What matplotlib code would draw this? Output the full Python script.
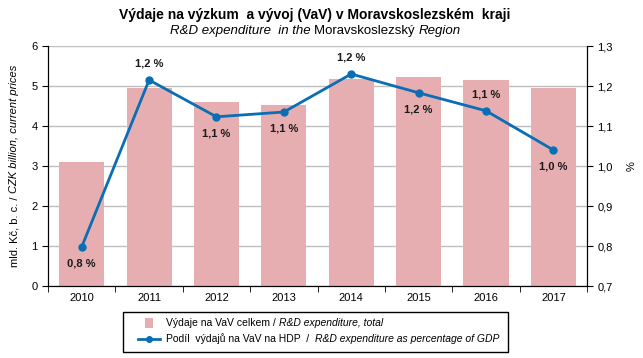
import numpy as np
import matplotlib
matplotlib.use('Agg')
import matplotlib.pyplot as plt
from matplotlib.lines import Line2D
from matplotlib.patches import Rectangle

plt.rcParams['font.family'] = ['Liberation Sans', 'DejaVu Sans']
plt.rcParams['font.size'] = 8

years = ['2010', '2011', '2012', '2013', '2014', '2015', '2016', '2017']
vydaje = [3.1, 4.95, 4.6, 4.52, 5.17, 5.22, 5.16, 4.95]
podil = [0.798, 1.215, 1.123, 1.135, 1.23, 1.183, 1.138, 1.04]
labels = ['0,8 %', '1,2 %', '1,1 %', '1,1 %', '1,2 %', '1,2 %', '1,1 %', '1,0 %']
above = [False, True, False, False, True, False, True, False]

bar_col = '#E6AEB1'
line_col = '#0A6EB4'

fig = plt.figure(figsize=(6.43, 3.58), dpi=100)
renderer = fig.canvas.get_renderer()


def mixed_text(x, y, parts, size, ha='center', weight='normal'):
    # parts: list of (string, italic?) drawn one after another on one baseline
    objs = []
    for s, it in parts:
        t = fig.text(0, y, s, fontsize=size, style='italic' if it else 'normal',
                     fontweight=weight, va='center')
        objs.append(t)
    widths = [o.get_window_extent(renderer).width / fig.bbox.width for o in objs]
    total = sum(widths)
    cur = x - total / 2 if ha == 'center' else x
    for o, w in zip(objs, widths):
        o.set_x(cur)
        cur += w


ax = fig.add_axes([0.0747, 0.201, 0.8383, 0.6705])
x = np.arange(len(years))

ax.bar(x, vydaje, width=0.67, color=bar_col, zorder=2)
ax.set_xlim(-0.5, len(years) - 0.5)
ax.set_ylim(0, 6)
ax.set_yticks(range(0, 7))
ax.yaxis.grid(True, color='#BFBFBF', linewidth=1, zorder=0)
ax.set_axisbelow(True)
ax.set_xticks(x)
ax.set_xticklabels(years)
ax.set_xticks(np.arange(-0.5, len(years)), minor=True)
ax.tick_params(axis='x', which='major', length=0, pad=5)
ax.tick_params(axis='x', which='minor', length=4, direction='out', color='black')
ax.tick_params(axis='y', length=4, direction='out')
ax.spines['top'].set_visible(False)

ax2 = ax.twinx()
ax2.set_ylim(0.7, 1.3)
rt = np.arange(0.7, 1.31, 0.1)
ax2.set_yticks(rt)
ax2.set_yticklabels([('%.1f' % v).replace('.', ',') for v in rt])
ax2.tick_params(axis='y', length=4, direction='out')
ax2.spines['top'].set_visible(False)
ax2.set_ylabel('%', fontsize=8, labelpad=10)
ax2.plot(x, podil, color=line_col, linewidth=2, marker='o', markersize=5, zorder=3)

for xi, v, lab, up in zip(x, podil, labels, above):
    off = 0.028 if up else -0.028
    ax2.text(xi, v + off, lab, ha='center', va='bottom' if up else 'top',
             fontsize=8, fontweight='bold', color='#1A1A1A')

# rotated y label with mixed styles
yl1 = fig.text(0.022, 0.0, 'mld. Kč, b. c. / ', rotation=90, fontsize=8,
               ha='center', va='bottom')
yl2 = fig.text(0.022, 0.0, 'CZK billion, current prices', rotation=90, fontsize=8,
               style='italic', ha='center', va='bottom')
h1 = yl1.get_window_extent(renderer).height / fig.bbox.height
h2 = yl2.get_window_extent(renderer).height / fig.bbox.height
ymid = 0.201 + 0.6705 / 2
yl1.set_y(ymid - (h1 + h2) / 2)
yl2.set_y(ymid - (h1 + h2) / 2 + h1)

fig.text(0.49, 0.958, 'Výdaje na výzkum  a vývoj (VaV) v Moravskoslezském  kraji',
         ha='center', va='center', fontsize=10, fontweight='bold')
mixed_text(0.49, 0.914, [('R&D expenditure  in the ', True), ('Moravskoslezský ', False),
                         ('Region', True)], 9.5)

# legend box
fig.add_artist(Rectangle((0.191, 0.017), 0.599, 0.112, transform=fig.transFigure,
                         facecolor='white', edgecolor='black', linewidth=1))
fig.add_artist(Rectangle((0.2255, 0.0978 - 0.014), 0.0125, 0.028, transform=fig.transFigure,
                         facecolor=bar_col, edgecolor='none'))
fig.add_artist(Line2D([0.2146, 0.249], [0.053, 0.053], transform=fig.transFigure,
                      color=line_col, linewidth=2))
fig.add_artist(Line2D([0.2318], [0.053], transform=fig.transFigure, color=line_col,
                      marker='o', markersize=4))
mixed_text(0.258, 0.0978, [('Výdaje na VaV celkem / ', False),
                           ('R&D expenditure, total', True)], 7.5, ha='left')
mixed_text(0.258, 0.053, [('Podíl  výdajů na VaV na HDP  /  ', False),
                          ('R&D expenditure as percentage of GDP', True)], 7.5, ha='left')

plt.savefig('out.png', dpi=100)
